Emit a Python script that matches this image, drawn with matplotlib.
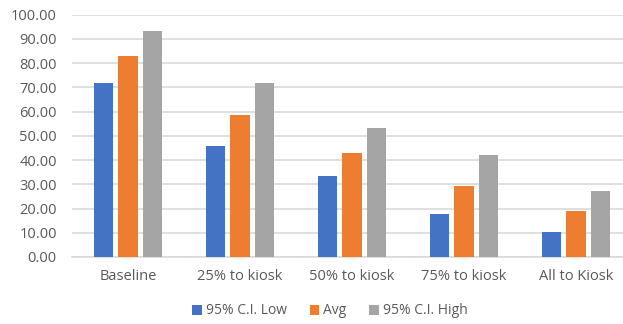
import numpy as np
import matplotlib.pyplot as plt

plt.rcParams['font.family'] = ['Open Sans', 'DejaVu Sans']

# Valores por cenário
cenarios = ["Baseline", "25% to kiosk", "50% to kiosk", "75% to kiosk", "All to Kiosk"]
ic_baixo = [71.7, 45.8, 33.4, 17.6, 10.5]
media = [82.8, 58.7, 42.9, 29.4, 18.8]
ic_alto = [93.4, 71.7, 53.1, 42.0, 27.2]
series = ["95% C.I. Low", "Avg", "95% C.I. High"]
cores = ["#4472C4", "#ED7D31", "#A5A5A5"]

fig = plt.figure(figsize=(6.23, 3.24), dpi=100)
ax = fig.add_axes([72/623, 67/324, 560/623, 242.3/324])

x = np.arange(len(cenarios))
largura = 0.17
passo = 0.223
for i, (vals, nome, cor) in enumerate(zip([ic_baixo, media, ic_alto], series, cores)):
    ax.bar(x + (i - 1) * passo, vals, largura, color=cor, label=nome, zorder=3)

ax.set_xlim(-0.5, 4.5)
ax.set_ylim(0, 100)
ax.set_yticks(np.arange(0, 101, 10))
ax.set_yticklabels([f"{v:.2f}" for v in np.arange(0, 101, 10)])
ax.set_xticks(x)
ax.set_xticklabels(cenarios)
ax.grid(axis='y', color='#d9d9d9', linewidth=1.2, zorder=0)
for s in ['top', 'right', 'left']:
    ax.spines[s].set_visible(False)
ax.spines['bottom'].set_color('#d9d9d9')
ax.spines['bottom'].set_linewidth(1.2)
ax.tick_params(axis='both', length=0, labelsize=10.5, colors='#595959')
ax.tick_params(axis='y', pad=11)
ax.tick_params(axis='x', pad=9)

fig.legend(loc='center', bbox_to_anchor=(330/623, 13/324), ncol=3, frameon=False,
           fontsize=10, handlelength=0.7, handleheight=0.7, handletextpad=0.3,
           columnspacing=1.6, labelcolor='#595959')

plt.savefig("out.png", dpi=100)
